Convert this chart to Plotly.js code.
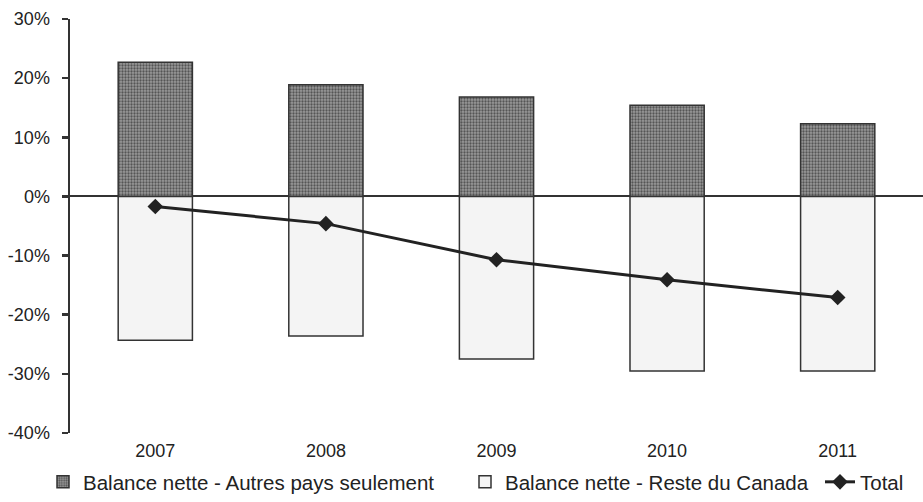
<!DOCTYPE html>
<html>
<head>
<meta charset="utf-8">
<script src="https://cdn.plot.ly/plotly-3.0.1.min.js"></script>
<style>html,body{margin:0;padding:0;background:#fff;}#chart{width:923px;height:502px;}</style>
</head>
<body>
<div id="chart"></div>
<script>
var years = ['2007', '2008', '2009', '2010', '2011'];
var autresPays = [22.7, 18.9, 16.8, 15.4, 12.3];
var resteCanada = [-24.3, -23.6, -27.5, -29.5, -29.5];
var total = [-1.7, -4.6, -10.7, -14.1, -17.1];
var seriesNames = ['Balance nette - Autres pays seulement', 'Balance nette - Reste du Canada', 'Total'];
var yTickVals = [-40, -30, -20, -10, 0, 10, 20, 30];
var yTickText = ['-40%', '-30%', '-20%', '-10%', '0%', '10%', '20%', '30%'];

var traces = [
  {
    type: 'bar', x: years, y: autresPays, name: seriesNames[0], legend: 'legend',
    marker: {color: '#8c8c8c', line: {color: '#333', width: 1.5},
      pattern: {shape: '.', fgcolor: '#555', bgcolor: '#9a9a9a', size: 3, solidity: 0.45}},
    hoverinfo: 'skip'
  },
  {
    type: 'bar', x: years, y: resteCanada, name: seriesNames[1], legend: 'legend2',
    marker: {color: '#f4f4f4', line: {color: '#333', width: 1.5}},
    hoverinfo: 'skip'
  },
  {
    type: 'scatter', mode: 'lines+markers', x: years, y: total, name: seriesNames[2], legend: 'legend3',
    line: {color: '#222', width: 3},
    marker: {symbol: 'diamond', size: 12, color: '#222'},
    hoverinfo: 'skip'
  }
];

function legendAt(xFrac) {
  return {orientation: 'h', xref: 'container', yref: 'container',
    x: xFrac, xanchor: 'left', y: 0.0, yanchor: 'bottom',
    font: {size: 20.5, color: '#222'}, itemwidth: 30,
    bgcolor: 'rgba(0,0,0,0)'};
}

var layout = {
  width: 923, height: 502,
  margin: {l: 70, r: 0, t: 19, b: 69, autoexpand: false},
  paper_bgcolor: '#fff', plot_bgcolor: '#fff',
  barmode: 'relative',
  bargap: 0.565,
  font: {family: 'Liberation Sans, Arial, sans-serif', color: '#222', size: 18},
  showlegend: true,
  legend: legendAt(43 / 923),
  legend2: legendAt(465 / 923),
  legend3: legendAt(820 / 923),
  xaxis: {
    type: 'category', showgrid: false, showline: false, ticks: '',
    tickfont: {size: 18}, zeroline: false, ticklabelstandoff: 5
  },
  yaxis: {
    range: [-40, 30], tickmode: 'array', tickvals: yTickVals, ticktext: yTickText,
    showgrid: false, zeroline: true, zerolinecolor: '#333', zerolinewidth: 2,
    showline: true, linecolor: '#333', linewidth: 2.5,
    ticks: 'outside', ticklen: 6, tickwidth: 2.5, tickcolor: '#333',
    tickfont: {size: 18}, ticklabelstandoff: 8
  }
};

Plotly.newPlot('chart', traces, layout, {displayModeBar: false, staticPlot: true});
</script>
</body>
</html>
